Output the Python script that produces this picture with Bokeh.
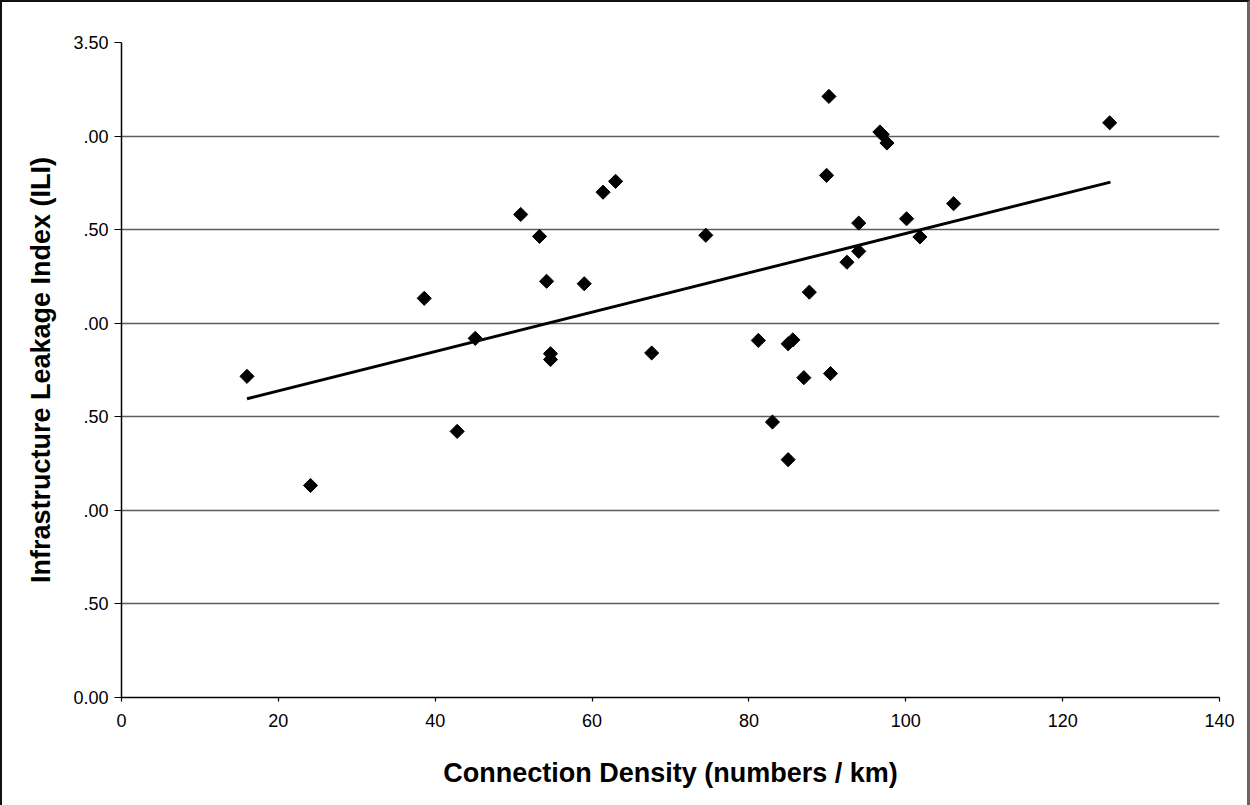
import math
from bokeh.plotting import figure
from bokeh.models import FixedTicker, ColumnDataSource
from bokeh.embed import file_html
from bokeh.resources import INLINE

# Data
conn_density = [16.0, 24.1, 38.6, 42.8, 45.1, 50.9, 53.3, 54.2, 54.7, 54.7,
                59.0, 61.4, 63.0, 67.6, 74.5, 81.2, 83.0, 85.0, 85.6, 85.0,
                87.0, 87.7, 89.9, 90.2, 90.4, 92.5, 94.0, 94.0, 96.7, 97.0,
                97.6, 100.1, 101.8, 106.1, 126.0]
ili = [1.716, 1.133, 2.133, 1.422, 1.919, 2.581, 2.464, 2.224, 1.837, 1.806,
       2.211, 2.700, 2.758, 1.841, 2.470, 1.908, 1.472, 1.890, 1.911, 1.271,
       1.709, 2.166, 2.790, 3.212, 1.731, 2.326, 2.535, 2.384, 3.022, 3.009,
       2.963, 2.558, 2.461, 2.639, 3.071]

trend_x = [16.0, 126.1]
trend_y = [1.596, 2.754]

x_ticks = [0, 20, 40, 60, 80, 100, 120, 140]
y_ticks = [0.0, 0.5, 1.0, 1.5, 2.0, 2.5, 3.0, 3.5]
y_tick_labels = ["0.00", ".50", ".00", ".50", ".00", ".50", ".00", "3.50"]

x_title = "Connection Density (numbers / km)"
y_title = "Infrastructure Leakage Index (ILI)"

FONT = "Liberation Sans"

p = figure(width=1250, height=805, output_backend="svg", toolbar_location=None,
           x_range=(0, 140), y_range=(0, 3.5),
           min_border_left=119, min_border_right=33,
           min_border_top=40, min_border_bottom=110)
p.outline_line_color = None
p.background_fill_color = "white"
p.border_fill_color = "white"
p.styles = {"border-left": "2px solid #111", "border-top": "2px solid #111",
            "border-right": "3px solid #666", "box-sizing": "border-box"}

# grid
p.xgrid.visible = False
p.ygrid.ticker = FixedTicker(ticks=[0.5, 1.0, 1.5, 2.0, 2.5, 3.0])
p.ygrid.grid_line_color = "#5e5e5e"
p.ygrid.grid_line_width = 1.5

# axes
p.xaxis.ticker = FixedTicker(ticks=x_ticks)
p.yaxis.ticker = FixedTicker(ticks=y_ticks)
p.yaxis.major_label_overrides = {t: lab for t, lab in zip(y_ticks, y_tick_labels)}
for ax in (p.xaxis[0], p.yaxis[0]):
    ax.axis_line_color = "black"
    ax.axis_line_width = 1.5
    ax.major_tick_line_color = "black"
    ax.major_tick_line_width = 1.2
    ax.major_tick_in = 0
    ax.minor_tick_line_color = None
    ax.major_label_text_font = FONT
    ax.major_label_text_font_size = "18px"
    ax.major_label_text_color = "black"
    ax.axis_label_text_font = FONT
    ax.axis_label_text_font_style = "bold"
    ax.axis_label_text_font_size = "27px"
    ax.axis_label_text_color = "black"
p.xaxis.major_tick_out = 4
p.yaxis.major_tick_out = 7
p.xaxis.major_label_standoff = 12
p.yaxis.major_label_standoff = 6
p.xaxis.axis_label = x_title
p.yaxis.axis_label = y_title
p.xaxis.axis_label_standoff = 28
p.yaxis.axis_label_standoff = 14

src = ColumnDataSource(dict(x=conn_density, y=ili))
p.line(trend_x, trend_y, line_color="black", line_width=3)
p.scatter("x", "y", source=src, marker="square", angle=math.pi / 4, size=10,
          fill_color="black", line_color="black")

open("out.html", "w").write(file_html(p, INLINE))
